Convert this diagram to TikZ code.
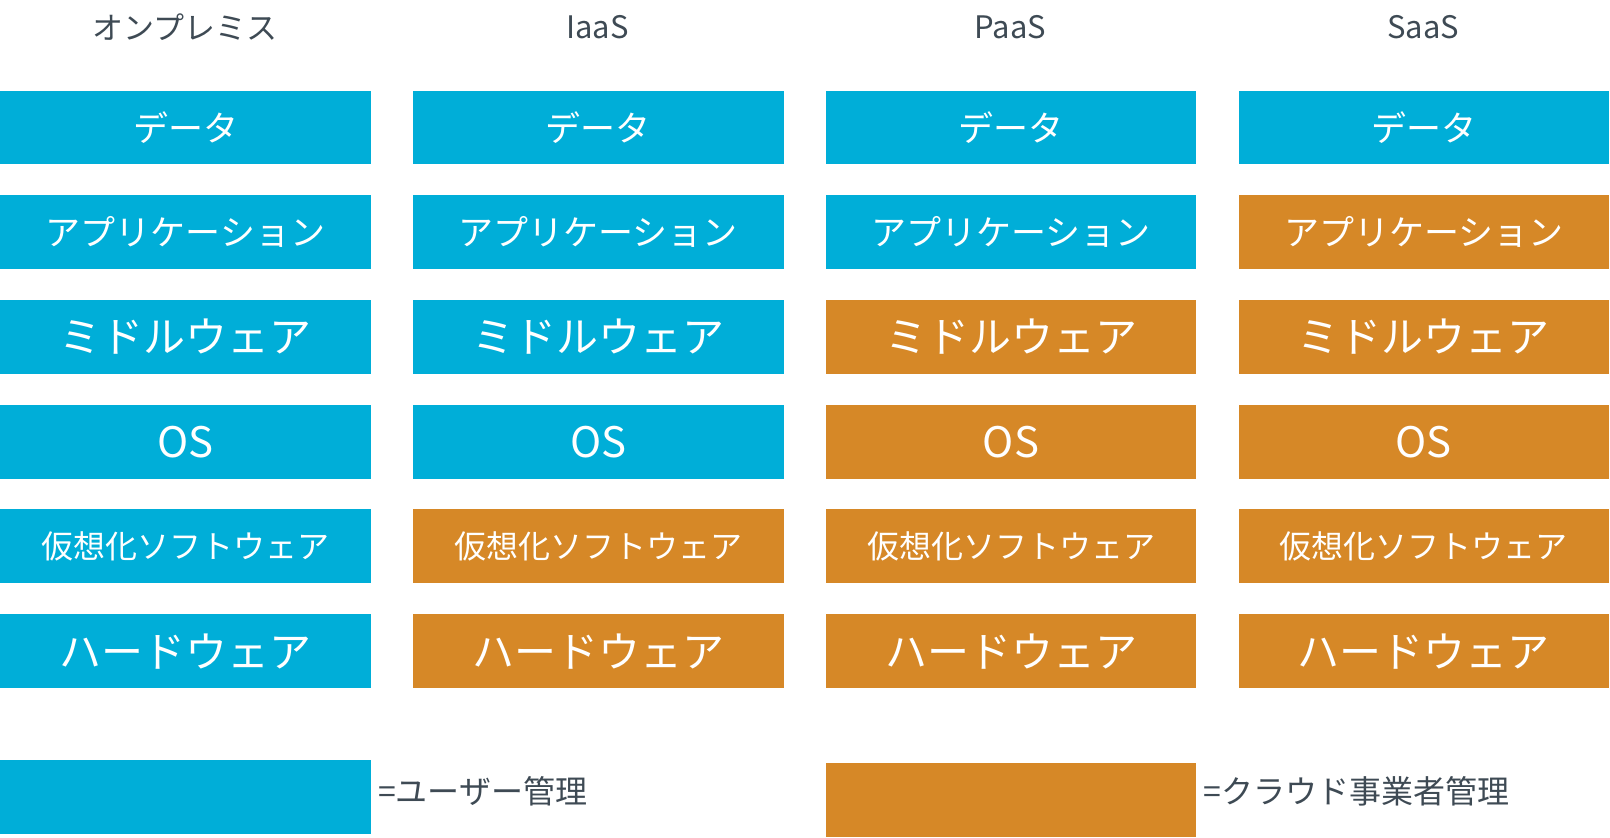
\documentclass[tikz,border=0pt]{standalone}
\usepackage{fontspec}
\setmainfont{Noto Sans CJK JP}
\definecolor{ub}{HTML}{00AED8}
\definecolor{co}{HTML}{D68827}
\definecolor{tg}{HTML}{3E4A54}
\begin{document}
\begin{tikzpicture}[x=1.0268pt,y=-1.0268pt,
 cell/.style={minimum width=361*1.0268pt,minimum height=72*1.0268pt,inner sep=0,text=white,anchor=north west},
 hd/.style={text=tg,font=\fontsize{31}{31}\selectfont}]
\useasboundingbox (0,0) rectangle (1568,816.1);
\def\fa{\fontsize{35}{35}\selectfont}
\def\fb{\fontsize{42}{42}\selectfont}
\def\fc{\fontsize{32}{32}\selectfont}
\foreach \c/\h [count=\i from 0] in {0/オンプレミス,402/IaaS,804/PaaS,1206/SaaS}{
  \node[hd] (h\i) at (\c+180,26) {\h};
}
\node[hd] at (164,26) {};
\foreach \c [count=\i from 0] in {0,402,804,1206}{
  \pgfmathsetmacro{\ca}{\i>=3?"co":"ub"}
  \pgfmathsetmacro{\cb}{\i>=2?"co":"ub"}
  \pgfmathsetmacro{\cc}{\i>=1?"co":"ub"}
  \node[cell,fill=ub,font=\fa] (d\i) at (\c,88) {データ};
  \node[cell,fill=\ca,font=\fa] (a\i) at (\c,190) {アプリケーション};
  \node[cell,fill=\cb,font=\fb] (m\i) at (\c,292) {ミドルウェア};
  \node[cell,fill=\cb,font=\fb] (o\i) at (\c,394) {OS};
  \node[cell,fill=\cc,font=\fc] (v\i) at (\c,495.5) {仮想化ソフトウェア};
  \node[cell,fill=\cc,font=\fb] (w\i) at (\c,598) {ハードウェア};
}
\node[cell,fill=ub] (lu) at (0,740) {};
\node[cell,fill=co] (lc) at (804,743) {};
\node[text=tg,font=\fontsize{32}{32}\selectfont,anchor=west,inner sep=0] (tu) at (368,771) {=ユーザー管理};
\node[text=tg,font=\fontsize{32}{32}\selectfont,anchor=west,inner sep=0] (tc) at (1172,771) {=クラウド事業者管理};
\end{tikzpicture}
\end{document}
